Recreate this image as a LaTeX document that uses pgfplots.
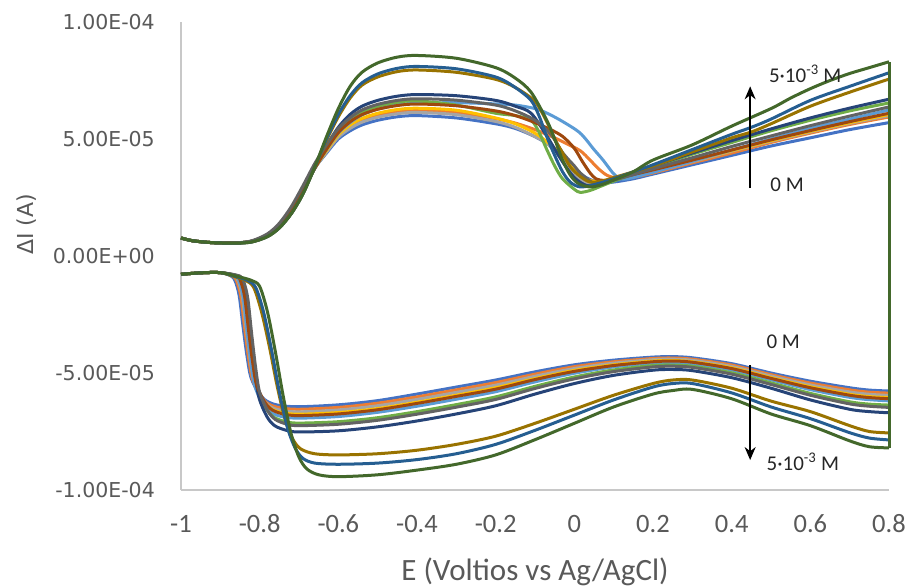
\documentclass[border=0pt]{standalone}
\usepackage{pgfplots}
\pgfplotsset{compat=1.18}
\usepackage{fontspec}
\setmainfont{Carlito}
\newfontfamily\dejavu{DejaVu Sans}
\usetikzlibrary{arrows.meta}
\definecolor{c1}{HTML}{4472C4}
\definecolor{c2}{HTML}{ED7D31}
\definecolor{c3}{HTML}{A5A5A5}
\definecolor{c4}{HTML}{FFC000}
\definecolor{c5}{HTML}{5B9BD5}
\definecolor{c6}{HTML}{70AD47}
\definecolor{c7}{HTML}{264478}
\definecolor{c8}{HTML}{9E480E}
\definecolor{c9}{HTML}{636363}
\definecolor{c10}{HTML}{997300}
\definecolor{c11}{HTML}{255E91}
\definecolor{c12}{HTML}{43682B}
\definecolor{axgray}{RGB}{200,200,200}
\definecolor{tickgray}{RGB}{89,89,89}
\begin{document}
\begin{tikzpicture}
\useasboundingbox (0,0) rectangle (909pt,587pt);
\begin{axis}[
  at={(181pt,97pt)}, anchor=south west,
  scale only axis, width=708pt, height=468pt,
  xmin=-1, xmax=0.8, ymin=-100, ymax=100,
  clip=false,
  axis lines=left,
  axis line style={-, draw=axgray, line width=1.3pt},
  major tick length=0pt,
  xtick={-1,-0.8,-0.6,-0.4,-0.2,0,0.2,0.4,0.6,0.8},
  xticklabels={-1,-0.8,-0.6,-0.4,-0.2,0,0.2,0.4,0.6,0.8},
  ytick={-100,-50,0,50,100},
  yticklabels={-1.00E-04,-5.00E-05,0.00E+00,5.00E-05,1.00E-04},
  xticklabel style={font=\fontsize{26.5}{26.5}\selectfont, text=tickgray, anchor=base, yshift=-42pt},
  yticklabel style={font=\dejavu\fontsize{20.5}{20.5}\selectfont, text=tickgray, anchor=east, inner sep=0pt, xshift=-26pt},
  every axis x label/.style={at={(axis description cs:0.5,0)}, anchor=base, yshift=-90pt, font=\fontsize{31}{31}\selectfont, text=tickgray},
  every axis y label/.style={at={(axis description cs:-0.2175,0.568)}, rotate=90, anchor=center, font=\dejavu\fontsize{22}{22}\selectfont, text=tickgray},
  xlabel={E (Voltios vs Ag/AgCl)},
  ylabel={ΔI (A)},
  every axis plot/.append style={line width=3pt, no markers, line join=round},
]
% ---- series 1
\addplot[c1, smooth, tension=0.5] coordinates {(-1,7.7)(-0.97,6.5)(-0.92,5.7)(-0.86,5.6)(-0.82,6.3)(-0.78,9)(-0.75,13)(-0.72,19.5)(-0.69,28)(-0.66,37.5)(-0.63,44)(-0.6,50)(-0.57,53.5)(-0.54,56)(-0.5,58)(-0.45,59.5)(-0.4,60)(-0.3,59)(-0.2,56.5)(-0.15,54.5)(-0.1,51)(-0.06,47)(-0.03,42.5)(0,37.5)(0.03,33.5)(0.065,31.3)(0.1,31.6)(0.15,33)(0.2,35)(0.3,39)(0.4,43)(0.5,47)(0.6,50.5)(0.7,54)(0.8,57)};
\addplot[c1] coordinates {(0.8,57)(0.8,-57.7)};
\addplot[c1, smooth, tension=0.5] coordinates {(0.8,-57.7)(0.75,-57.3)(0.7,-56.3)(0.6,-53.5)(0.5,-50)(0.4,-46)(0.3,-43.5)(0.25,-43)(0.2,-43.2)(0.1,-44.5)(0,-46.5)(-0.1,-49.5)(-0.2,-53)(-0.3,-56)(-0.4,-59)(-0.5,-61.8)(-0.6,-63.6)(-0.7,-64.4)(-0.752,-63.8)(-0.782,-62)(-0.802,-58.6)(-0.822,-52)(-0.832,-43)(-0.842,-30.6)(-0.852,-17)(-0.862,-10.8)(-0.872,-8.6)(-0.9,-7.1)(-0.95,-7.2)(-1,-7.8)};
% ---- series 2
\addplot[c2, smooth, tension=0.5] coordinates {(-1,7.7)(-0.97,6.5)(-0.92,5.7)(-0.86,5.6)(-0.82,6.3)(-0.78,9)(-0.75,13)(-0.72,19.5)(-0.69,28)(-0.66,37.5)(-0.63,44.75)(-0.6,51.25)(-0.57,55.25)(-0.54,58)(-0.5,60.1)(-0.45,61.7)(-0.4,62.25)(-0.3,61.4)(-0.2,58.7)(-0.15,56.8)(-0.1,54)(-0.05,50.5)(-0.02,48)(0.015,45)(0.04,41)(0.06,37.5)(0.083,34.5)(0.11,33.3)(0.15,33.7)(0.2,35.5)(0.3,39.8)(0.4,44)(0.5,48.5)(0.6,52.5)(0.7,56.2)(0.8,59.4)};
\addplot[c2] coordinates {(0.8,59.4)(0.8,-58.6)};
\addplot[c2, smooth, tension=0.5] coordinates {(0.8,-58.6)(0.75,-58.2)(0.7,-57.2)(0.6,-54.3)(0.5,-50.7)(0.4,-46.6)(0.3,-44.1)(0.25,-43.6)(0.2,-43.8)(0.1,-45.2)(0,-47.3)(-0.1,-50.5)(-0.2,-54.1)(-0.3,-57.2)(-0.4,-60.2)(-0.5,-62.9)(-0.6,-64.7)(-0.7,-65.5)(-0.748,-64.9)(-0.778,-63.2)(-0.798,-59.8)(-0.818,-52.9)(-0.828,-43.7)(-0.838,-31)(-0.848,-17.2)(-0.858,-10.9)(-0.868,-8.6)(-0.9,-7.1)(-0.95,-7.2)(-1,-7.8)};
% ---- series 3
\addplot[c3, smooth, tension=0.5] coordinates {(-1,7.7)(-0.97,6.5)(-0.92,5.7)(-0.86,5.6)(-0.82,6.3)(-0.78,9)(-0.75,13)(-0.72,19.5)(-0.69,28)(-0.66,37.5)(-0.63,44.45)(-0.6,50.75)(-0.57,54.55)(-0.54,57.2)(-0.5,59.3)(-0.45,60.8)(-0.4,61.35)(-0.3,60.4)(-0.2,57.5)(-0.15,55)(-0.1,51)(-0.069,48)(-0.03,41)(0,35)(0.03,31.3)(0.06,31.2)(0.1,32.5)(0.15,34.2)(0.2,36)(0.3,40.3)(0.4,44.8)(0.5,49)(0.6,53)(0.7,56.7)(0.8,60)};
\addplot[c3] coordinates {(0.8,60)(0.8,-59.6)};
\addplot[c3, smooth, tension=0.5] coordinates {(0.8,-59.6)(0.75,-59.1)(0.7,-58.1)(0.6,-55.1)(0.5,-51.3)(0.4,-47.2)(0.3,-44.6)(0.25,-44.1)(0.2,-44.3)(0.1,-45.8)(0,-48.1)(-0.1,-51.4)(-0.2,-55.2)(-0.3,-58.3)(-0.4,-61.3)(-0.5,-64)(-0.6,-65.8)(-0.7,-66.6)(-0.744,-66)(-0.774,-64.3)(-0.794,-60.7)(-0.814,-53.7)(-0.824,-44.3)(-0.834,-31.4)(-0.844,-17.4)(-0.854,-10.9)(-0.864,-8.6)(-0.9,-7.1)(-0.95,-7.2)(-1,-7.8)};
% ---- series 4
\addplot[c4, smooth, tension=0.5] coordinates {(-1,7.7)(-0.97,6.5)(-0.92,5.7)(-0.86,5.6)(-0.82,6.3)(-0.78,9)(-0.75,13)(-0.72,19.5)(-0.69,28)(-0.66,37.5)(-0.63,45.05)(-0.6,51.75)(-0.57,55.95)(-0.54,58.8)(-0.5,61)(-0.45,62.6)(-0.4,63.15)(-0.3,62.3)(-0.2,59)(-0.15,56.5)(-0.1,52.5)(-0.06,47.5)(-0.03,43)(0,37)(0.03,33)(0.055,31.8)(0.08,32.2)(0.1,32.8)(0.15,34.5)(0.2,36.3)(0.3,40.6)(0.4,45)(0.5,49.3)(0.6,53.3)(0.7,57)(0.8,60.5)};
\addplot[c4] coordinates {(0.8,60.5)(0.8,-60.5)};
\addplot[c4, smooth, tension=0.5] coordinates {(0.8,-60.5)(0.75,-60.1)(0.7,-59.1)(0.6,-55.9)(0.5,-52)(0.4,-47.8)(0.3,-45.2)(0.25,-44.7)(0.2,-44.9)(0.1,-46.5)(0,-48.9)(-0.1,-52.4)(-0.2,-56.3)(-0.3,-59.5)(-0.4,-62.5)(-0.5,-65.2)(-0.6,-66.9)(-0.7,-67.6)(-0.742,-67)(-0.772,-65.2)(-0.792,-61.6)(-0.812,-54.5)(-0.822,-45)(-0.832,-31.8)(-0.842,-17.5)(-0.852,-11)(-0.862,-8.6)(-0.9,-7.1)(-0.95,-7.2)(-1,-7.8)};
% ---- series 5
\addplot[c5, smooth, tension=0.5] coordinates {(-1,7.7)(-0.97,6.5)(-0.92,5.7)(-0.86,5.6)(-0.82,6.3)(-0.78,9)(-0.75,13)(-0.72,19.5)(-0.69,28)(-0.66,37.5)(-0.63,45.5)(-0.6,52.5)(-0.57,57)(-0.54,60.3)(-0.5,62.8)(-0.45,64.6)(-0.4,65.3)(-0.3,65.5)(-0.2,65)(-0.15,64.5)(-0.1,63)(-0.069,61)(-0.03,57.5)(0.015,52.5)(0.05,45.5)(0.073,41)(0.098,35.5)(0.116,33)(0.14,33.2)(0.2,35.8)(0.3,40.5)(0.4,45.3)(0.5,50)(0.6,54.5)(0.7,58.5)(0.8,62.4)};
\addplot[c5] coordinates {(0.8,62.4)(0.8,-61.9)};
\addplot[c5, smooth, tension=0.5] coordinates {(0.8,-61.9)(0.75,-61.4)(0.7,-60.4)(0.6,-57.1)(0.5,-52.9)(0.4,-48.7)(0.3,-46)(0.25,-45.5)(0.2,-45.7)(0.1,-47.4)(0,-50.1)(-0.1,-53.8)(-0.2,-58)(-0.3,-61.2)(-0.4,-64.2)(-0.5,-66.8)(-0.6,-68.6)(-0.7,-69.3)(-0.742,-68.7)(-0.772,-66.8)(-0.792,-63.2)(-0.812,-55.8)(-0.822,-46)(-0.832,-32.5)(-0.842,-17.8)(-0.852,-11.1)(-0.862,-8.6)(-0.9,-7.1)(-0.95,-7.2)(-1,-7.8)};
% ---- series 6
\addplot[c6, smooth, tension=0.5] coordinates {(-1,7.7)(-0.97,6.5)(-0.92,5.7)(-0.86,5.6)(-0.82,6.3)(-0.78,9)(-0.75,13)(-0.72,19.5)(-0.69,28)(-0.66,37.5)(-0.63,46.1)(-0.6,53.5)(-0.57,58.4)(-0.54,61.6)(-0.5,64)(-0.45,65.7)(-0.4,66.3)(-0.3,64.5)(-0.2,61)(-0.15,60)(-0.11,58)(-0.09,53)(-0.07,45.5)(-0.05,38.5)(-0.03,33)(0,28.5)(0.015,27.2)(0.04,28)(0.07,30)(0.1,32)(0.15,35)(0.2,38)(0.3,43.5)(0.4,48.5)(0.5,53.5)(0.6,58)(0.7,62)(0.8,65.4)};
\addplot[c6] coordinates {(0.8,65.4)(0.8,-63.7)};
\addplot[c6, smooth, tension=0.5] coordinates {(0.8,-63.7)(0.75,-63.3)(0.7,-62.3)(0.6,-58.7)(0.5,-54.2)(0.4,-49.9)(0.3,-47.1)(0.25,-46.6)(0.2,-46.8)(0.1,-48.7)(0,-51.7)(-0.1,-55.7)(-0.2,-60.2)(-0.3,-63.5)(-0.4,-66.5)(-0.5,-69.1)(-0.6,-70.8)(-0.7,-71.4)(-0.734,-70.8)(-0.764,-68.9)(-0.784,-65.1)(-0.804,-57.5)(-0.814,-47.3)(-0.824,-33.4)(-0.834,-18.1)(-0.844,-11.2)(-0.854,-8.6)(-0.9,-7.1)(-0.95,-7.2)(-1,-7.8)};
% ---- series 7
\addplot[c7, smooth, tension=0.5] coordinates {(-1,7.7)(-0.97,6.5)(-0.92,5.7)(-0.86,5.6)(-0.82,6.3)(-0.78,9)(-0.75,13)(-0.72,19.5)(-0.69,28)(-0.66,37.5)(-0.63,47)(-0.6,55)(-0.57,60.5)(-0.54,64)(-0.5,66.5)(-0.45,68.3)(-0.4,69)(-0.3,68.5)(-0.2,66.5)(-0.15,64)(-0.11,61)(-0.069,51)(-0.029,40)(0,33.5)(0.03,30.2)(0.06,30.5)(0.1,32.5)(0.15,35.5)(0.2,38.5)(0.3,44)(0.4,49.3)(0.5,54.3)(0.6,59)(0.7,63.2)(0.8,67)};
\addplot[c7] coordinates {(0.8,67)(0.8,-67)};
\addplot[c7, smooth, tension=0.5] coordinates {(0.8,-67)(0.75,-66.5)(0.7,-65.5)(0.6,-61.5)(0.5,-56.5)(0.4,-52)(0.3,-49)(0.25,-48.5)(0.2,-48.8)(0.1,-51)(0,-54.5)(-0.1,-59)(-0.2,-64)(-0.3,-67.5)(-0.4,-70.5)(-0.5,-73)(-0.6,-74.7)(-0.7,-75.2)(-0.732,-74.5)(-0.762,-72.5)(-0.782,-68.5)(-0.802,-60.4)(-0.812,-49.7)(-0.822,-34.9)(-0.832,-18.8)(-0.842,-11.4)(-0.852,-8.7)(-0.9,-7.1)(-0.95,-7.2)(-1,-7.8)};
% ---- series 8
\addplot[c8, smooth, tension=0.5] coordinates {(-1,7.7)(-0.97,6.5)(-0.92,5.7)(-0.86,5.6)(-0.82,6.3)(-0.78,9)(-0.75,13)(-0.72,19.5)(-0.69,28)(-0.66,37.5)(-0.63,45.65)(-0.6,52.75)(-0.57,57.35)(-0.54,60.4)(-0.5,62.7)(-0.45,64.3)(-0.4,64.95)(-0.3,64.2)(-0.2,62)(-0.15,60)(-0.1,57)(-0.06,54)(-0.029,51)(0,46)(0.02,40.5)(0.04,35.5)(0.055,33)(0.075,32.3)(0.1,32.8)(0.15,34.8)(0.2,36.8)(0.3,41)(0.4,45.3)(0.5,49.6)(0.6,53.6)(0.7,57.4)(0.8,61)};
\addplot[c8] coordinates {(0.8,61)(0.8,-61)};
\addplot[c8, smooth, tension=0.5] coordinates {(0.8,-61)(0.75,-60.5)(0.7,-59.5)(0.6,-56.3)(0.5,-52.3)(0.4,-48.1)(0.3,-45.4)(0.25,-44.9)(0.2,-45.2)(0.1,-46.8)(0,-49.3)(-0.1,-52.8)(-0.2,-56.9)(-0.3,-60)(-0.4,-63)(-0.5,-65.7)(-0.6,-67.5)(-0.7,-68.2)(-0.738,-67.6)(-0.768,-65.8)(-0.788,-62.2)(-0.808,-55)(-0.818,-45.3)(-0.828,-32.1)(-0.838,-17.6)(-0.848,-11)(-0.858,-8.6)(-0.9,-7.1)(-0.95,-7.2)(-1,-7.8)};
% ---- series 9
\addplot[c9, smooth, tension=0.5] coordinates {(-1,7.7)(-0.97,6.5)(-0.92,5.7)(-0.86,5.6)(-0.82,6.5)(-0.78,9.5)(-0.75,14)(-0.72,21)(-0.69,30)(-0.66,39.5)(-0.63,47.5)(-0.6,54.5)(-0.57,59.1)(-0.54,62.4)(-0.5,64.8)(-0.45,66.5)(-0.4,67.2)(-0.3,66.6)(-0.2,64.5)(-0.15,62)(-0.1,58)(-0.06,52)(-0.029,44)(0,38.5)(0.015,35.5)(0.045,31.5)(0.07,31.5)(0.1,32.5)(0.15,34.8)(0.2,37.3)(0.3,42)(0.4,46.8)(0.5,51.3)(0.6,55.7)(0.7,59.8)(0.8,63.7)};
\addplot[c9] coordinates {(0.8,63.7)(0.8,-64.7)};
\addplot[c9, smooth, tension=0.5] coordinates {(0.8,-64.7)(0.75,-64.2)(0.7,-63.2)(0.6,-59.5)(0.5,-54.9)(0.4,-50.5)(0.3,-47.6)(0.25,-47.1)(0.2,-47.4)(0.1,-49.4)(0,-52.5)(-0.1,-56.6)(-0.2,-61.3)(-0.3,-64.6)(-0.4,-67.6)(-0.5,-70.2)(-0.6,-71.9)(-0.7,-72.5)(-0.73,-71.9)(-0.76,-69.9)(-0.78,-66)(-0.8,-58.3)(-0.81,-48)(-0.82,-33.8)(-0.83,-18.3)(-0.84,-11.2)(-0.85,-8.6)(-0.9,-7.1)(-0.95,-7.2)(-1,-7.8)};
% ---- series 10
\addplot[c10, smooth, tension=0.5] coordinates {(-1,7.7)(-0.97,6.5)(-0.92,5.7)(-0.86,5.5)(-0.82,6)(-0.78,8.3)(-0.75,12)(-0.72,18)(-0.69,26.5)(-0.66,38)(-0.63,49.5)(-0.6,59.5)(-0.57,67.5)(-0.54,73)(-0.5,76.5)(-0.45,78.8)(-0.4,79.5)(-0.3,78.5)(-0.2,75.5)(-0.15,72)(-0.1,66)(-0.069,57)(-0.05,50)(-0.03,44)(-0.01,38)(0.015,34)(0.04,31.6)(0.07,32)(0.1,33.5)(0.2,38.5)(0.3,44.5)(0.4,50.5)(0.45,53)(0.5,56.5)(0.6,64)(0.7,70)(0.8,75.6)};
\addplot[c10] coordinates {(0.8,75.6)(0.8,-75.6)};
\addplot[c10, smooth, tension=0.5] coordinates {(0.8,-75.6)(0.75,-75)(0.7,-72.5)(0.6,-66.5)(0.5,-62)(0.4,-56.5)(0.3,-53)(0.25,-53)(0.2,-54.5)(0.1,-59.5)(0,-65.5)(-0.1,-71.5)(-0.2,-77)(-0.3,-80.5)(-0.4,-83)(-0.5,-84.5)(-0.6,-85)(-0.66,-84.5)(-0.695,-82.5)(-0.715,-78.5)(-0.735,-70)(-0.755,-56)(-0.775,-39)(-0.795,-24)(-0.815,-13.5)(-0.835,-10.5)(-0.865,-8.8)(-0.9,-7.1)(-0.95,-7.2)(-1,-7.8)};
% ---- series 11
\addplot[c11, smooth, tension=0.5] coordinates {(-1,7.7)(-0.97,6.5)(-0.92,5.7)(-0.86,5.5)(-0.82,6)(-0.78,8.3)(-0.75,12)(-0.72,18)(-0.69,26.5)(-0.66,38)(-0.63,50)(-0.6,60.5)(-0.57,68.5)(-0.54,74)(-0.5,77.8)(-0.45,80.2)(-0.4,81)(-0.3,80)(-0.2,76.5)(-0.15,72)(-0.11,66.5)(-0.09,60)(-0.07,51)(-0.05,43)(-0.03,36)(-0.01,31.5)(0.015,29.5)(0.05,30.5)(0.1,33)(0.2,39)(0.3,45.5)(0.4,52)(0.45,55)(0.5,58.5)(0.6,66.5)(0.7,72.5)(0.8,78.3)};
\addplot[c11] coordinates {(0.8,78.3)(0.8,-78.6)};
\addplot[c11, smooth, tension=0.5] coordinates {(0.8,-78.6)(0.75,-77.8)(0.7,-75.5)(0.6,-69.5)(0.5,-64.5)(0.4,-58.5)(0.3,-54.5)(0.25,-54.5)(0.2,-56)(0.1,-61.5)(0,-68)(-0.1,-74.5)(-0.2,-80.5)(-0.3,-84.5)(-0.4,-87)(-0.5,-88.5)(-0.6,-89)(-0.66,-88.5)(-0.69,-86.5)(-0.71,-82)(-0.73,-73)(-0.75,-58)(-0.77,-40)(-0.79,-24)(-0.81,-13.5)(-0.83,-10.5)(-0.86,-8.8)(-0.9,-7.1)(-0.95,-7.2)(-1,-7.8)};
% ---- series 12
\addplot[c12, smooth, tension=0.5] coordinates {(-1,7.7)(-0.97,6.5)(-0.92,5.7)(-0.86,5.5)(-0.82,6)(-0.78,8.3)(-0.75,12)(-0.72,18)(-0.69,26.5)(-0.66,38)(-0.63,51)(-0.6,63)(-0.57,72.5)(-0.54,78.5)(-0.5,82.5)(-0.45,85)(-0.4,85.7)(-0.3,84.5)(-0.2,80.5)(-0.15,76)(-0.11,70)(-0.07,58)(-0.05,50)(-0.03,41)(-0.01,34.5)(0.01,31)(0.04,29.5)(0.07,30.5)(0.1,32.5)(0.15,36)(0.2,41)(0.3,47.5)(0.4,55.5)(0.5,63)(0.55,67.5)(0.6,71.5)(0.65,75)(0.7,78)(0.75,80.5)(0.8,83)};
\addplot[c12] coordinates {(0.8,83)(0.8,-82)};
\addplot[c12, smooth, tension=0.5] coordinates {(0.8,-82)(0.75,-81.5)(0.7,-79)(0.6,-72.5)(0.5,-67.5)(0.4,-61)(0.3,-57)(0.25,-57.5)(0.2,-59)(0.1,-64.5)(0,-71.5)(-0.1,-78.5)(-0.2,-85)(-0.3,-89)(-0.4,-91.5)(-0.5,-93.5)(-0.6,-94.3)(-0.65,-93.5)(-0.68,-91)(-0.7,-86)(-0.72,-76)(-0.74,-60)(-0.76,-41)(-0.78,-24)(-0.8,-13)(-0.82,-10.5)(-0.85,-9)(-0.9,-7.1)(-0.95,-7.2)(-1,-7.8)};
% ---- annotations
\draw[-{Stealth[length=13pt,width=11pt]}, line width=1.4pt, black] (axis cs:0.447,29) -- (axis cs:0.447,72.5);
\draw[-{Stealth[length=13pt,width=11pt]}, line width=1.4pt, black] (axis cs:0.447,-46.6) -- (axis cs:0.447,-87.2);
\node[font=\fontsize{21}{21}\selectfont, text=black!85, inner sep=0pt] at (axis cs:0.587,77.8) {5·10\textsuperscript{-3} M};
\node[font=\fontsize{21}{21}\selectfont, text=black!85, inner sep=0pt] at (axis cs:0.541,30.3) {0 M};
\node[font=\fontsize{21}{21}\selectfont, text=black!85, inner sep=0pt] at (axis cs:0.531,-36.8) {0 M};
\node[font=\fontsize{21}{21}\selectfont, text=black!85, inner sep=0pt] at (axis cs:0.581,-88) {5·10\textsuperscript{-3} M};
\end{axis}
\end{tikzpicture}
\end{document}
